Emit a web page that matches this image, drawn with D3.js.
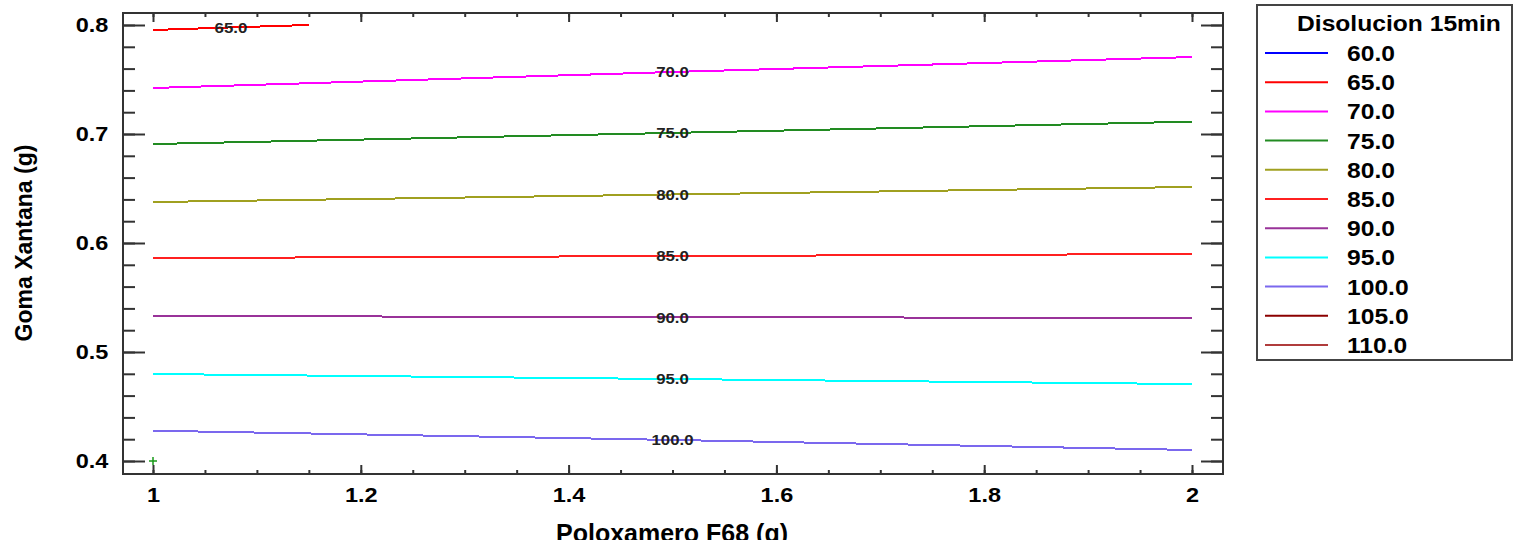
<!DOCTYPE html>
<html>
<head>
<meta charset="utf-8">
<script src="https://cdn.jsdelivr.net/npm/d3@7"></script>
<style>
  body { margin: 0; background: #fff; }
  text { font-family: "Liberation Sans", Arial, sans-serif; font-weight: bold; }
</style>
</head>
<body>
<svg id="chart" width="1513" height="540"></svg>
<script>
// legend levels
var legendLevels = ["60.0", "65.0", "70.0", "75.0", "80.0", "85.0", "90.0", "95.0", "100.0", "105.0", "110.0"];
var legendColors = ["#0000ff", "#ff0000", "#ff00ff", "#228b22", "#a0a020", "#ff2020", "#993399", "#00ffff", "#7b68ee", "#8b0000", "#b03c3c"];

// contour lines that show in the plot
var lineLevels = ["65.0", "70.0", "75.0", "80.0", "85.0", "90.0", "95.0", "100.0"];
var lineX = [
  [1.0, 1.075, 1.15],
  [1.0, 1.5, 2.0],
  [1.0, 1.5, 2.0],
  [1.0, 1.5, 2.0],
  [1.0, 1.5, 2.0],
  [1.0, 1.5, 2.0],
  [1.0, 1.5, 2.0],
  [1.0, 1.5, 2.0]
];
var lineY = [
  [0.7954, 0.7978, 0.8],
  [0.7422, 0.7569, 0.7706],
  [0.6908, 0.7010, 0.7113],
  [0.6376, 0.6445, 0.6514],
  [0.5862, 0.5880, 0.5899],
  [0.5330, 0.5320, 0.5312],
  [0.4798, 0.4752, 0.4706],
  [0.4278, 0.4193, 0.4101]
];

var xMajor = [1, 1.2, 1.4, 1.6, 1.8, 2];
var xMinor = d3.range(1, 2.001, 0.05);
var yMajor = [0.4, 0.5, 0.6, 0.7, 0.8];
var yMinor = d3.range(0.4, 0.801, 0.02);

var frame = {left: 123, right: 1223, top: 13, bottom: 474};
var sx = 1.12; // text is a bit wider than tall in the original

var svg = d3.select("#chart");

var xScale = d3.scaleLinear().domain([1, 2]).range([153, 1192]);
var yScale = d3.scaleLinear().domain([0.4, 0.8]).range([461, 25]);

// frame
svg.append("rect")
    .attr("x", frame.left)
    .attr("y", frame.top)
    .attr("width", frame.right - frame.left)
    .attr("height", frame.bottom - frame.top)
    .attr("fill", "none")
    .attr("stroke", "#333")
    .attr("stroke-width", 2);

function tidy(g) {
  g.select(".domain").remove();
  g.selectAll("line").attr("stroke", "#333").attr("stroke-width", 2);
}

// x axis, bottom
svg.append("g")
    .attr("transform", "translate(0," + frame.bottom + ")")
    .call(d3.axisBottom(xScale).tickValues(xMinor).tickSize(-4).tickFormat(""))
    .call(tidy);
var xAx = svg.append("g")
    .attr("transform", "translate(0," + frame.bottom + ")")
    .call(d3.axisBottom(xScale).tickValues(xMajor).tickSize(-9).tickPadding(13).tickFormat(d3.format("")))
    .call(tidy);
xAx.selectAll("text")
    .attr("fill", "#000")
    .style("font-size", "21px")
    .attr("transform", "scale(" + sx + ",1)");

// x axis, top (ticks only)
svg.append("g")
    .attr("transform", "translate(0," + frame.top + ")")
    .call(d3.axisTop(xScale).tickValues(xMinor).tickSize(-4).tickFormat(""))
    .call(tidy);
svg.append("g")
    .attr("transform", "translate(0," + frame.top + ")")
    .call(d3.axisTop(xScale).tickValues(xMajor).tickSize(-9).tickFormat(""))
    .call(tidy);

// y axis, left
svg.append("g")
    .attr("transform", "translate(" + frame.left + ",0)")
    .call(d3.axisLeft(yScale).tickValues(yMinor).tickSize(-12).tickFormat(""))
    .call(tidy);
var yAx = svg.append("g")
    .attr("transform", "translate(" + frame.left + ",0)")
    .call(d3.axisLeft(yScale).tickValues(yMajor).tickSize(-22).tickPadding(13).tickFormat(d3.format(".1f")))
    .call(tidy);
yAx.selectAll("text")
    .attr("fill", "#000")
    .style("font-size", "21px")
    .attr("transform", "scale(" + sx + ",1)");

// y axis, right (ticks only)
svg.append("g")
    .attr("transform", "translate(" + frame.right + ",0)")
    .call(d3.axisRight(yScale).tickValues(yMinor).tickSize(-12).tickFormat(""))
    .call(tidy);
svg.append("g")
    .attr("transform", "translate(" + frame.right + ",0)")
    .call(d3.axisRight(yScale).tickValues(yMajor).tickSize(-22).tickFormat(""))
    .call(tidy);

// axis titles (x title runs off the bottom edge, as in the original)
svg.append("text")
    .attr("x", 672)
    .attr("y", 542)
    .attr("text-anchor", "middle")
    .style("font-size", "25px")
    .text("Poloxamero F68 (g)");

svg.append("text")
    .attr("transform", "translate(32,243) rotate(-90)")
    .attr("text-anchor", "middle")
    .style("font-size", "23px")
    .text("Goma Xantana (g)");

// contour lines
var line = d3.line()
    .x(function(d) { return xScale(d[0]); })
    .y(function(d) { return yScale(d[1]); });

lineLevels.forEach(function(lev, i) {
  var pts = lineX[i].map(function(x, j) { return [x, lineY[i][j]]; });
  var col = legendColors[legendLevels.indexOf(lev)];
  svg.append("path")
      .datum(pts)
      .attr("d", line)
      .attr("fill", "none")
      .attr("stroke", col)
      .attr("stroke-width", 2)
      .attr("shape-rendering", "crispEdges");
});

// contour labels, at the middle point of each line
lineLevels.forEach(function(lev, i) {
  svg.append("g")
      .attr("transform", "translate(" + xScale(lineX[i][1]) + "," + yScale(lineY[i][1]) + ")")
    .append("text")
      .attr("transform", "scale(" + sx + ",1)")
      .attr("text-anchor", "middle")
      .attr("dy", "0.36em")
      .attr("fill", "#222")
      .style("font-size", "15px")
      .text(lev);
});

// design point
svg.append("path")
    .attr("transform", "translate(" + xScale(1) + "," + yScale(0.4) + ")")
    .attr("fill", "none")
    .attr("stroke", "#1a9a1a")
    .attr("stroke-width", 1.5)
    .attr("d", "M-4,0H4M0,-4V4");

// legend
var legend = svg.append("g");
legend.append("rect")
    .attr("x", 1257)
    .attr("y", 5)
    .attr("width", 255)
    .attr("height", 355)
    .attr("fill", "#fff")
    .attr("stroke", "#444")
    .attr("stroke-width", 2);

legend.append("g")
    .attr("transform", "translate(1297,31)")
  .append("text")
    .attr("transform", "scale(" + sx + ",1)")
    .style("font-size", "22px")
    .text("Disolucion 15min");

var rowY = d3.scalePoint().domain(legendLevels).range([53, 345]);

legendLevels.forEach(function(lev, i) {
  var y = rowY(lev);
  legend.append("line")
      .attr("x1", 1265).attr("x2", 1328)
      .attr("y1", y).attr("y2", y)
      .attr("stroke", legendColors[i])
      .attr("stroke-width", 2);
  legend.append("g")
      .attr("transform", "translate(1347," + y + ")")
    .append("text")
      .attr("transform", "scale(" + sx + ",1)")
      .attr("dy", "0.36em")
      .style("font-size", "22px")
      .text(lev);
});
</script>
</body>
</html>
